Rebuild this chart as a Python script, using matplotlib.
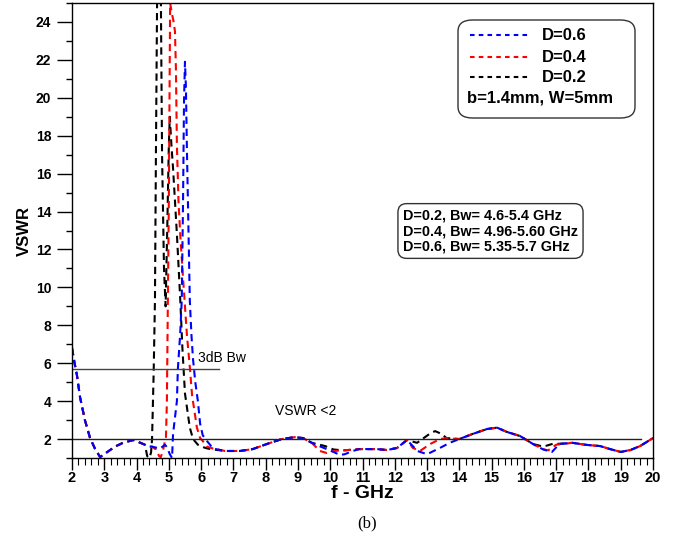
import matplotlib
matplotlib.use("Agg")
import matplotlib.pyplot as plt
from matplotlib.patches import FancyBboxPatch
from matplotlib.lines import Line2D
from matplotlib.ticker import MultipleLocator

plt.rcParams['font.family'] = ['Liberation Sans', 'DejaVu Sans']

# ---- data ----
common_lo_x = [2.0, 2.08, 2.15, 2.25, 2.4, 2.56, 2.71, 2.87, 3.08, 3.33, 3.58, 3.9, 4.05, 4.26]
common_lo_y = [6.8, 6.0, 5.4, 4.2, 3.0, 2.05, 1.5, 1.05, 1.3, 1.6, 1.8, 1.95, 1.85, 1.7]

d02_mid_x = [4.33, 4.4, 4.45, 4.48, 4.53, 4.57, 4.6, 4.64, 4.7, 4.75, 4.79, 4.85, 4.9, 4.95, 5.0, 5.03,
             5.08, 5.13, 5.25, 5.35, 5.42, 5.5, 5.6, 5.65, 5.75, 5.9, 6.1, 6.2, 6.37]
d02_mid_y = [1.1, 1.0, 1.3, 2.0, 5.5, 9.3, 17.0, 26.0, 28.0, 26.0, 17.0, 11.0, 9.0, 13.0, 17.5, 19.0,
             17.5, 16.3, 12.8, 9.5, 6.8, 4.4, 3.2, 2.6, 2.0, 1.7, 1.55, 1.5, 1.45]

d04_mid_x = [4.35, 4.48, 4.6, 4.7, 4.75, 4.82, 4.88, 4.91, 4.94, 4.97, 5.0, 5.04, 5.1, 5.15, 5.19,
             5.22, 5.25, 5.3, 5.36, 5.44, 5.5, 5.56, 5.65, 5.72, 5.8, 5.87, 5.97, 6.05, 6.18, 6.37]
d04_mid_y = [1.6, 1.6, 1.45, 1.1, 1.05, 1.4, 1.9, 2.05, 4.0, 9.3, 14.5, 25.0, 24.4, 24.0, 23.5,
             21.5, 17.5, 14.5, 12.6, 10.5, 9.0, 7.5, 5.8, 4.3, 3.4, 2.6, 2.05, 1.9, 1.6, 1.5]

d06_mid_x = [4.35, 4.48, 4.6, 4.73, 4.88, 4.95, 5.03, 5.1, 5.13, 5.25, 5.28, 5.35, 5.4, 5.44, 5.47,
             5.5, 5.53, 5.56, 5.62, 5.65, 5.7, 5.75, 5.82, 5.9, 5.97, 6.05, 6.18, 6.37]
d06_mid_y = [1.6, 1.6, 1.55, 1.5, 1.7, 1.55, 1.2, 1.0, 2.26, 4.0, 5.7, 7.5, 9.3, 14.5, 19.8,
             21.9, 20.5, 17.3, 12.0, 9.3, 7.5, 6.2, 5.0, 4.0, 2.8, 2.2, 1.9, 1.5]

common_a_x = [6.74, 7.2, 7.6, 8.04, 8.5, 8.9, 9.16, 9.43]
common_a_y = [1.37, 1.37, 1.47, 1.74, 2.0, 2.1, 2.05, 1.8]

d02_b_x = [9.84, 10.1, 10.4, 10.9, 11.45, 11.76, 12.07, 12.38, 12.69, 13.1, 13.25, 13.46, 13.6]
d02_b_y = [1.63, 1.45, 1.4, 1.47, 1.47, 1.42, 1.53, 1.95, 1.8, 2.3, 2.42, 2.26, 2.05]
d04_b_x = [9.68, 9.9, 10.1, 10.4, 10.9, 11.45, 11.76, 12.07, 12.38, 12.56, 12.78, 13.1, 13.4, 13.6]
d04_b_y = [1.37, 1.26, 1.37, 1.4, 1.47, 1.47, 1.42, 1.53, 1.95, 1.53, 1.37, 1.74, 2.0, 2.05]
d06_b_x = [9.7, 10.0, 10.3, 10.45, 10.7, 10.9, 11.45, 11.76, 12.07, 12.38, 12.7, 13.0, 13.4, 13.7]
d06_b_y = [1.6, 1.4, 1.16, 1.2, 1.37, 1.47, 1.47, 1.42, 1.53, 1.95, 1.37, 1.2, 1.53, 1.8]

common_c_x = [14.0, 14.4, 14.86, 15.17, 15.48, 15.88, 16.28]
common_c_y = [2.0, 2.26, 2.53, 2.6, 2.37, 2.16, 1.74]

d02_d_x = [16.6, 16.9, 17.1]
d02_d_y = [1.6, 1.75, 1.75]
d04_d_x = [16.59, 16.75, 17.0]
d04_d_y = [1.47, 1.4, 1.7]
d06_d_x = [16.6, 16.87, 17.1]
d06_d_y = [1.45, 1.32, 1.74]

common_e_x = [17.5, 17.95, 18.36, 18.67, 19.0, 19.3, 19.6, 20.0]
common_e_y = [1.8, 1.69, 1.63, 1.47, 1.32, 1.42, 1.63, 2.05]

labels = ["D=0.6", "D=0.4", "D=0.2"]
colors = ["#0000ff", "#ff0000", "#000000"]
bw_lines = ["D=0.2, Bw= 4.6-5.4 GHz", "D=0.4, Bw= 4.96-5.60 GHz", "D=0.6, Bw= 5.35-5.7 GHz"]
param_text = "b=1.4mm, W=5mm"
bw3db_level = 5.7
bw3db_end = 6.55
vswr2_level = 2.02
vswr2_end = 19.63


def series(mid_x, mid_y, b_x, b_y, d_x, d_y):
    x = common_lo_x + mid_x + common_a_x + b_x + common_c_x + d_x + common_e_x
    y = common_lo_y + mid_y + common_a_y + b_y + common_c_y + d_y + common_e_y
    return x, y


s06 = series(d06_mid_x, d06_mid_y, d06_b_x, d06_b_y, d06_d_x, d06_d_y)
s04 = series(d04_mid_x, d04_mid_y, d04_b_x, d04_b_y, d04_d_x, d04_d_y)
s02 = series(d02_mid_x, d02_mid_y, d02_b_x, d02_b_y, d02_d_x, d02_d_y)

fig = plt.figure(figsize=(6.78, 5.43), dpi=100)
ax = fig.add_axes([72 / 678, 1 - 458 / 543, 581 / 678, 455 / 543])

dash = (3.5, 2.3)
for (xs, ys), c in zip([s02, s04, s06], [colors[2], colors[1], colors[0]]):
    ax.plot(xs, ys, color=c, lw=1.5, dashes=dash, clip_on=True)

ax.plot([2, bw3db_end], [bw3db_level, bw3db_level], color="#444444", lw=1.0)
ax.plot([2, vswr2_end], [vswr2_level, vswr2_level], color="#222222", lw=1.0)

ax.text(5.9, 6.3, "3dB Bw", fontsize=10, ha="left", va="center")
ax.text(8.3, 3.5, "VSWR <2", fontsize=10, ha="left", va="center")

ax.set_xlim(2, 20)
ax.set_ylim(1, 25)
ax.xaxis.set_major_locator(MultipleLocator(1))
ax.xaxis.set_minor_locator(MultipleLocator(0.2))
ax.yaxis.set_major_locator(MultipleLocator(2))
ax.yaxis.set_minor_locator(MultipleLocator(1))
ax.set_yticks(range(2, 25, 2))
ax.tick_params(axis="y", which="major", length=11, width=1.0, direction="out", labelsize=10, pad=4)
ax.tick_params(axis="y", which="minor", length=4.5, width=1.0, direction="out")
ax.tick_params(axis="x", which="major", length=8.5, width=1.0, direction="out", labelsize=10.5, pad=1)
ax.tick_params(axis="x", which="minor", length=5, width=0.8, direction="out")
for lab in ax.get_xticklabels() + ax.get_yticklabels():
    lab.set_fontweight("bold")
for sp in ax.spines.values():
    sp.set_linewidth(1.0)

ax.set_ylabel("VSWR", fontsize=12, fontweight="bold", labelpad=3)
ax.set_xlabel("f - GHz", fontsize=14, fontweight="bold", labelpad=0)

# legend box
def axx(px):
    return (px - 72) / 581


def axy(py):
    return (458 - py) / 455


box = FancyBboxPatch((axx(458), axy(118)), axx(635) - axx(458), axy(20) - axy(118),
                     boxstyle="round,pad=0,rounding_size=0.025", transform=ax.transAxes,
                     fc="white", ec="#333333", lw=1.0, zorder=5)
ax.add_patch(box)
rows = [35, 57, 77]
for lab, c, py in zip(labels, colors, rows):
    ax.add_line(Line2D([axx(470), axx(530)], [axy(py), axy(py)], transform=ax.transAxes,
                       color=c, lw=1.5, dashes=(2.2, 2.0), zorder=6))
    ax.text(axx(542), axy(py), lab, transform=ax.transAxes, fontsize=12, fontweight="bold",
            ha="left", va="center", zorder=6)
ax.text(axx(467), axy(98), param_text, transform=ax.transAxes, fontsize=12, fontweight="bold",
        ha="left", va="center", zorder=6)

ax.text(axx(403), axy(231), "\n".join(bw_lines), transform=ax.transAxes, fontsize=10.4,
        fontweight="bold", ha="left", va="center", linespacing=1.12, zorder=6,
        bbox=dict(boxstyle="round,pad=0.35,rounding_size=0.6", fc="white", ec="#333333", lw=1.0))

fig.text(367 / 678, 1 - 523 / 543, "(b)", fontsize=12, family="Liberation Serif",
         ha="center", va="center")

fig.savefig("out.png", dpi=100)
